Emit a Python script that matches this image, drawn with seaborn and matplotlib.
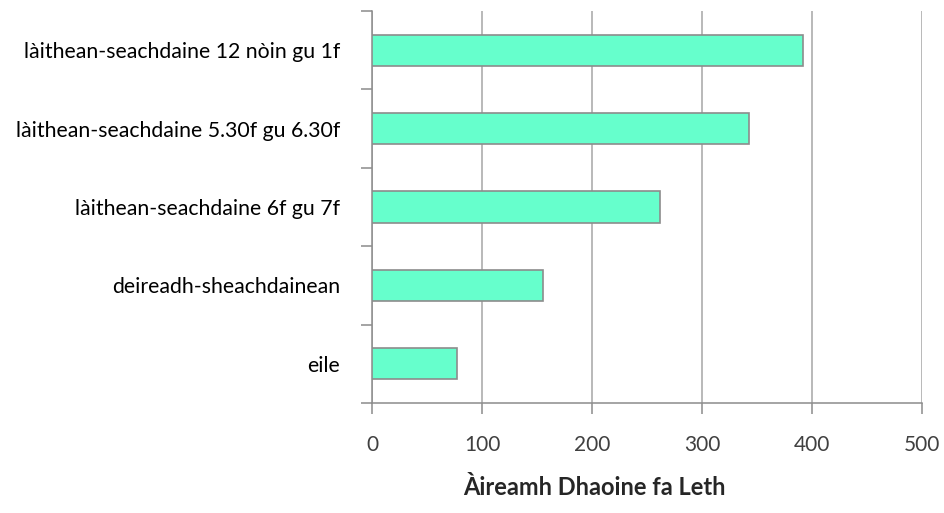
import matplotlib
matplotlib.use('Agg')
import matplotlib.pyplot as plt
from matplotlib.ticker import FixedLocator
import seaborn as sns
import pandas as pd

# roinnean agus àireamh dhaoine
categories = ['làithean-seachdaine 12 nòin gu 1f',
              'làithean-seachdaine 5.30f gu 6.30f',
              'làithean-seachdaine 6f gu 7f',
              'deireadh-sheachdainean',
              'eile']
counts = [392, 343, 262, 155, 77]
x_ticks = [0, 100, 200, 300, 400, 500]
x_label = 'Àireamh Dhaoine fa Leth'

sns.set_style('white')
plt.rcParams['font.family'] = ['Lato', 'DejaVu Sans']

df = pd.DataFrame({'roinn': categories, 'aireamh': counts})

fig = plt.figure(figsize=(9.45, 5.13), dpi=100)
ax = fig.add_axes([0.3937, 0.2144, 0.5820, 0.7642])

sns.barplot(data=df, y='roinn', x='aireamh', orient='h', color='#66FFCC',
            saturation=1, edgecolor='#8c8c8c', linewidth=1.2, width=0.4,
            ax=ax, zorder=3)

# loidhnichean griod dìreach
ax.set_xlim(0, 500)
ax.set_xticks(x_ticks)
ax.set_xticklabels([str(t) for t in x_ticks], fontsize=15, color='#404040')
ax.xaxis.grid(True, color='#a6a6a6', linewidth=1.1)
ax.set_axisbelow(True)

# comharran aig crìochan nan roinnean
ax.set_ylim(len(categories) - 0.5, -0.5)
ax.yaxis.set_minor_locator(FixedLocator([i - 0.5 for i in range(len(categories) + 1)]))
ax.tick_params(axis='y', which='major', length=0, pad=23, labelsize=15.3, labelcolor='#000000')
ax.tick_params(axis='y', which='minor', length=8, width=1.1, color='#8c8c8c', left=True)
ax.tick_params(axis='x', which='major', length=8, width=1.1, color='#8c8c8c', pad=15, bottom=True)

for s in ['top', 'right']:
    ax.spines[s].set_visible(False)
for s in ['left', 'bottom']:
    ax.spines[s].set_color('#8c8c8c')
    ax.spines[s].set_linewidth(1.1)

ax.set_ylabel('')
ax.set_xlabel(x_label, fontsize=17, fontweight='bold')
ax.xaxis.set_label_coords(0.405, -0.186)

fig.savefig('out.png', dpi=100)
